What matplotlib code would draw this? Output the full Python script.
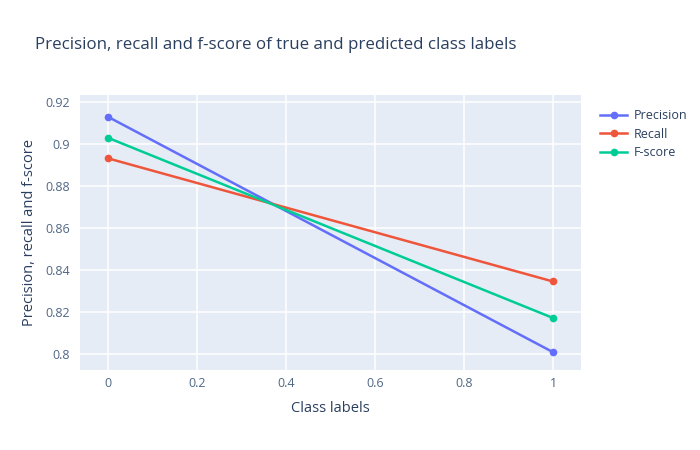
import matplotlib.pyplot as plt

plt.rcParams['font.family'] = ['Open Sans', 'DejaVu Sans']

class_labels = [0, 1]
precision = [0.9129, 0.8007]
recall = [0.8931, 0.8344]
fscore = [0.9029, 0.8170]

series_names = ['Precision', 'Recall', 'F-score']
series_colors = ['#636efa', '#EF553B', '#00cc96']
y_ticks = [0.8, 0.82, 0.84, 0.86, 0.88, 0.9, 0.92]
y_tick_labels = ['0.8', '0.82', '0.84', '0.86', '0.88', '0.9', '0.92']
x_ticks = [0, 0.2, 0.4, 0.6, 0.8, 1]
x_tick_labels = ['0', '0.2', '0.4', '0.6', '0.8', '1']

text_color = '#2a3f5f'
tick_color = '#506784'

fig = plt.figure(figsize=(7, 4.5), dpi=100)
ax = fig.add_axes([80 / 700, 80 / 450, 501 / 700, 275 / 450])
ax.set_facecolor('#e5ecf6')

for vals, name, col in zip([precision, recall, fscore], series_names, series_colors):
    ax.plot(class_labels, vals, color=col, linewidth=1.8, marker='o', markersize=4.5, label=name, zorder=3)

ax.set_xlim(-0.0629, 1.0629)
ax.set_ylim(0.7922, 0.9233)
ax.set_xticks(x_ticks)
ax.set_xticklabels(x_tick_labels)
ax.set_yticks(y_ticks)
ax.set_yticklabels(y_tick_labels)
ax.grid(True, color='white', linewidth=1.1, zorder=0)
ax.set_axisbelow(True)
for s in ax.spines.values():
    s.set_visible(False)
ax.tick_params(axis='x', length=0, labelsize=9, colors=tick_color, pad=5)
ax.tick_params(axis='y', length=0, labelsize=9, colors=tick_color, pad=7)

ax.set_xlabel('Class labels', fontsize=10.5, color=text_color, labelpad=8)
ax.set_ylabel('Precision, recall and f-score', fontsize=10.5, color=text_color, labelpad=6)

fig.text(35 / 700, 1 - 45 / 450, 'Precision, recall and f-score of true and predicted class labels',
         fontsize=12.2, color=text_color, va='center', ha='left')

leg = ax.legend(loc='upper left', bbox_to_anchor=(1.015, 0.99), frameon=False, fontsize=9,
                handlelength=2.2, handletextpad=0.5, labelspacing=0.45, borderaxespad=0.5)
for t in leg.get_texts():
    t.set_color(text_color)

fig.savefig('out.png', dpi=100)
